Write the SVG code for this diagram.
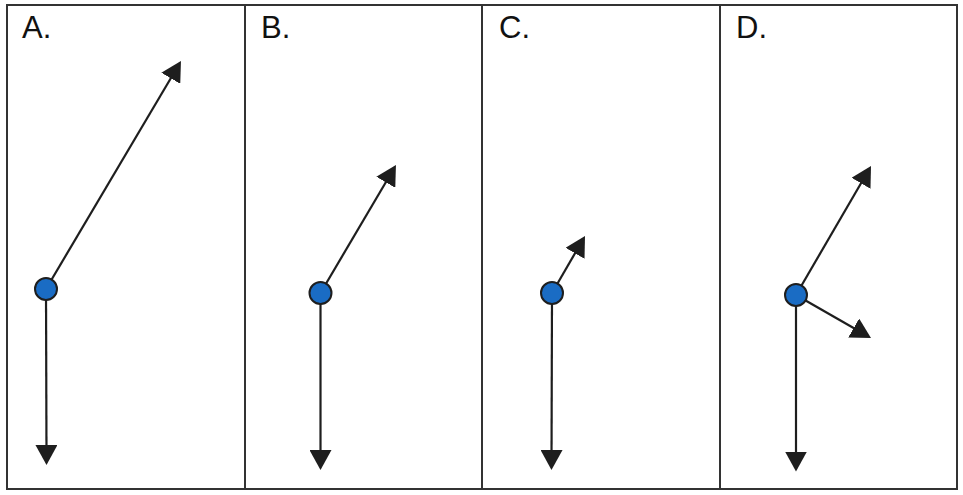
<svg xmlns="http://www.w3.org/2000/svg" width="963" height="495" viewBox="0 0 963 495">
<style>
.frame{fill:none;stroke:#333;stroke-width:2}
.div{stroke:#333;stroke-width:2}
.lbl{font-family:"Liberation Sans",Arial,sans-serif;font-size:31px;fill:#111}
.ln{stroke:#1e1e1e;stroke-width:2.2;fill:none;marker-end:url(#ah)}
.dot{fill:#1a6cc4;stroke:#1e1e1e;stroke-width:2}
</style>
<defs>
<marker id="ah" viewBox="0 0 20 22" refX="14" refY="11" markerWidth="20" markerHeight="22" markerUnits="userSpaceOnUse" orient="auto">
<path d="M0,0 L20,11 L0,22 Z" fill="#1e1e1e"/>
</marker>
</defs>
<rect x="0" y="0" width="963" height="495" fill="#ffffff"/>
<rect x="7" y="5" width="950" height="484" fill="#fdfcfd" class="frame"/>
<g id="dividers">
<line class="div" x1="245" y1="5" x2="245" y2="489"/>
<line class="div" x1="482" y1="5" x2="482" y2="489"/>
<line class="div" x1="720" y1="5" x2="720" y2="489"/>
</g>
<g id="labels">
<text class="lbl" x="22" y="38">A.</text>
<text class="lbl" x="261" y="38">B.</text>
<text class="lbl" x="499" y="38">C.</text>
<text class="lbl" x="736" y="38">D.</text>
</g>
<g id="connectors">
<line class="ln" x1="46" y1="289" x2="177.9" y2="66.2"/>
<line class="ln" x1="46" y1="289" x2="46.5" y2="459"/>
<line class="ln" x1="320.5" y1="293" x2="392.9" y2="170.2"/>
<line class="ln" x1="320.5" y1="293" x2="320.5" y2="464"/>
<line class="ln" x1="552" y1="293" x2="582" y2="241.2"/>
<line class="ln" x1="552" y1="293" x2="551.5" y2="464"/>
<line class="ln" x1="796" y1="295" x2="868" y2="171.2"/>
<line class="ln" x1="796" y1="295" x2="865.8" y2="335"/>
<line class="ln" x1="796" y1="295" x2="796" y2="465.5"/>
</g>
<g id="nodeA"><circle class="dot" cx="46" cy="289" r="11"/></g>
<g id="nodeB"><circle class="dot" cx="320.5" cy="293" r="11"/></g>
<g id="nodeC"><circle class="dot" cx="552" cy="293" r="11"/></g>
<g id="nodeD"><circle class="dot" cx="796" cy="295" r="11"/></g>
</svg>
